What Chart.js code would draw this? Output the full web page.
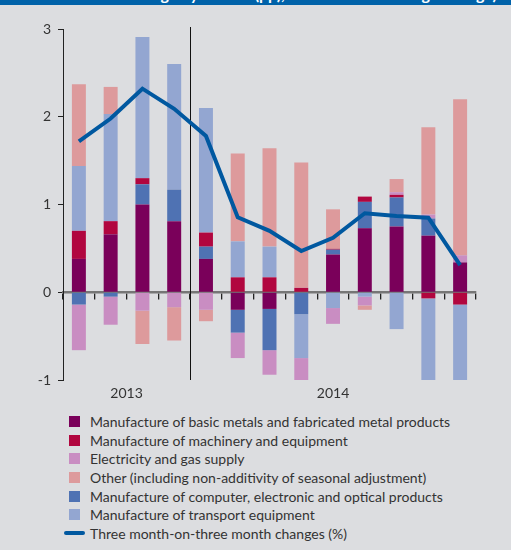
<!DOCTYPE html>
<html>
<head>
<meta charset="utf-8">
<script src="https://cdn.jsdelivr.net/npm/chart.js@4"></script>
<style>
body { margin: 0; background: #dcdde0; width: 511px; height: 550px; overflow: hidden; font-family: Lato, sans-serif; }
#title { position: absolute; left: 0; top: 0; width: 511px; height: 5px; background: #0062a9; overflow: hidden; }
#title span { position: absolute; right: 14px; top: -16px; line-height: 19px; color: #fff; font-weight: bold; font-size: 16px; white-space: nowrap; }
#wrap { position: absolute; left: 0; top: 5px; width: 511px; height: 400px; }
#legend { position: absolute; left: 64px; top: 412px; color: #333; font-size: 14px; }
.item { display: flex; align-items: center; height: 18.7px; white-space: nowrap; }
.box { width: 11px; height: 11px; margin-left: 5px; margin-right: 10px; }
.line { width: 21px; height: 4px; border-radius: 2px; margin-right: 5px; }
</style>
</head>
<body>
<div id="title"><span>Contributions to change by branch (pp), three-month average change)</span></div>
<div id="wrap"><canvas id="chart"></canvas></div>
<div id="legend"></div>
<script>
// monthly observations, Sep 2013 - Sep 2014
const months = ['Sep 13', 'Oct 13', 'Nov 13', 'Dec 13', 'Jan 14', 'Feb 14', 'Mar 14',
    'Apr 14', 'May 14', 'Jun 14', 'Jul 14', 'Aug 14', 'Sep 14'];
const years = ['2013', '2014'];
const monthsPerYear = [4, 9];

// contributions in percentage points
const metals = [0.38, 0.66, 1.00, 0.81, 0.38, -0.20, -0.19, 0, 0.43, 0.73, 0.75, 0.645, 0.34];
const computer = [-0.14, -0.05, 0.23, 0.36, 0.14, -0.26, -0.47, -0.25, 0.055, 0.30, 0.33, 0.195, 0];
const machinery = [0.32, 0.15, 0.07, 0, 0.16, 0.17, 0.17, 0.05, 0.01, 0.06, 0.03, -0.07, -0.14];
const transport = [0.74, 1.22, 1.61, 1.43, 1.42, 0.41, 0.35, -0.50, -0.18, -0.05, -0.42, -0.93, -0.86];
const electricity = [-0.52, -0.32, -0.21, -0.17, -0.20, -0.29, -0.28, -0.26, -0.18, -0.10, 0.03, 0.045, 0.08];
const other = [0.93, 0.31, -0.38, -0.38, -0.13, 1.00, 1.12, 1.43, 0.45, -0.05, 0.15, 0.995, 1.78];
const threeMonth = [1.72, 1.98, 2.32, 2.09, 1.78, 0.855, 0.70, 0.47, 0.62, 0.90, 0.87, 0.85, 0.31];

const names = {
    metals: 'Manufacture of basic metals and fabricated metal products',
    machinery: 'Manufacture of machinery and equipment',
    electricity: 'Electricity and gas supply',
    other: 'Other (including non-additivity of seasonal adjustment)',
    computer: 'Manufacture of computer, electronic and optical products',
    transport: 'Manufacture of transport equipment',
    line: 'Three month-on-three month changes (%)'
};
const colors = {
    metals: '#7a005a',
    machinery: '#b1063f',
    electricity: '#c98dc2',
    other: '#dd9a9c',
    computer: '#4f72b3',
    transport: '#93a6d1',
    line: '#0058a0'
};
const seriesData = { metals, computer, machinery, transport, electricity, other };
// order the bars stack in, from zero outwards
const stackOrder = ['metals', 'computer', 'machinery', 'transport', 'electricity', 'other'];
const legendOrder = ['metals', 'machinery', 'electricity', 'other', 'computer', 'transport'];

//year labels and the divider under/through the plot
const yearPlugin = {
    id: 'years',
    beforeDatasetsDraw(chart) {
        const x = chart.scales.x;
        const area = chart.chartArea;
        const w = (x.right - x.left) / months.length;
        const ctx = chart.ctx;
        ctx.save();
        let start = 0;
        monthsPerYear.forEach((n, i) => {
            const left = x.left + start * w;
            const right = left + n * w;
            if (i > 0) {
                ctx.strokeStyle = '#111';
                ctx.lineWidth = 1;
                ctx.beginPath();
                ctx.moveTo(Math.round(left) + 0.5, area.top - 2);
                ctx.lineTo(Math.round(left) + 0.5, area.bottom);
                ctx.stroke();
            }
            ctx.fillStyle = '#333';
            ctx.font = '14px Lato, sans-serif';
            ctx.textAlign = 'center';
            ctx.textBaseline = 'middle';
            ctx.fillText(years[i], (left + right) / 2, area.bottom + 13);
            start += n;
        });
        ctx.restore();
    }
};

const datasets = [{
    type: 'line',
    label: names.line,
    data: threeMonth,
    borderColor: colors.line,
    borderWidth: 4,
    pointRadius: 0,
    tension: 0,
    fill: false
}];
stackOrder.forEach(key => {
    datasets.push({
        type: 'bar',
        label: names[key],
        data: seriesData[key],
        backgroundColor: colors[key],
        borderWidth: 0,
        barPercentage: 0.44,
        categoryPercentage: 1
    });
});

new Chart(document.getElementById('chart'), {
    type: 'bar',
    data: { labels: months, datasets: datasets },
    options: {
        responsive: true,
        maintainAspectRatio: false,
        animation: false,
        layout: { padding: { top: 24, right: 35, bottom: 25, left: 0 } },
        plugins: { legend: { display: false }, tooltip: { enabled: false } },
        scales: {
            x: {
                stacked: true,
                position: { y: 0 },
                z: 1,
                ticks: { display: false },
                grid: { offset: true, drawOnChartArea: false, tickLength: 6, color: '#222', lineWidth: 1.3 },
                border: { color: '#767676', width: 2.5 }
            },
            y: {
                stacked: true,
                min: -1,
                max: 3,
                afterFit: scale => { scale.width = 63; },
                ticks: { stepSize: 1, color: '#333', font: { family: 'Lato', size: 14 }, padding: 7 },
                grid: { drawOnChartArea: false, tickLength: 5, color: '#222' },
                border: { color: '#222', width: 1 }
            }
        }
    },
    plugins: [yearPlugin]
});

//legend below the chart, one column
const legend = document.getElementById('legend');
legendOrder.forEach(key => {
    const row = document.createElement('div');
    row.className = 'item';
    row.innerHTML = '<span class="box" style="background:' + colors[key] + '"></span>' + names[key];
    legend.appendChild(row);
});
const lineRow = document.createElement('div');
lineRow.className = 'item';
lineRow.innerHTML = '<span class="line" style="background:' + colors.line + '"></span>' + names.line;
legend.appendChild(lineRow);
</script>
</body>
</html>
